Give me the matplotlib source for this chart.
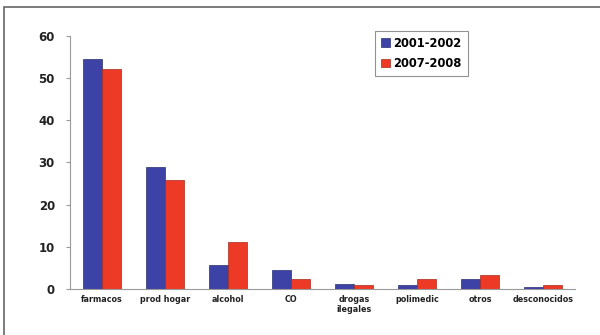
import numpy as np
import matplotlib.pyplot as plt
from matplotlib.patches import Rectangle

categorias = ["farmacos", "prod hogar", "alcohol", "CO", "drogas\nilegales",
              "polimedic", "otros", "desconocidos"]
serie_2001 = [54.5, 28.9, 5.7, 4.5, 1.3, 1.0, 2.4, 0.5]
serie_2007 = [52.1, 25.8, 11.1, 2.4, 1.0, 2.4, 3.3, 1.0]
etiquetas = ["2001-2002", "2007-2008"]

azul = "#3c42a6"
rojo = "#ec3a26"

fig = plt.figure(figsize=(6, 3.35), dpi=100)
ax = fig.add_axes([0.117, 0.137, 0.841, 0.756])

x = np.arange(len(categorias))
w = 0.3
ax.bar(x - w / 2, serie_2001, w, color=azul, edgecolor="#2a2e70", linewidth=0.5,
       label=etiquetas[0])
ax.bar(x + w / 2, serie_2007, w, color=rojo, edgecolor="#a82a1a", linewidth=0.5,
       label=etiquetas[1])

ax.set_ylim(0, 60)
ax.set_xlim(-0.5, len(categorias) - 0.5)
ax.set_yticks(range(0, 61, 10))
ax.set_xticks(x)
ax.set_xticklabels(categorias, fontsize=5.8, fontweight="bold", color="#222222",
                   linespacing=1.2)
for t in ax.get_yticklabels():
    t.set_fontsize(8.5)
    t.set_fontweight("bold")
    t.set_color("#222222")

for s in ["top", "right"]:
    ax.spines[s].set_visible(False)
ax.spines["left"].set_color("#999999")
ax.spines["bottom"].set_color("#999999")
ax.tick_params(axis="y", length=3, color="#999999", pad=8)
ax.tick_params(axis="x", length=0, pad=4)

leg = ax.legend(loc="upper left", bbox_to_anchor=(0.604, 1.02),
                prop={"weight": "bold", "size": 8.3}, frameon=True, fancybox=False,
                handlelength=0.8, handleheight=0.8, handletextpad=0.3,
                borderpad=0.5, labelspacing=0.65, borderaxespad=0)
leg.get_frame().set_edgecolor("#777777")
leg.get_frame().set_linewidth(0.8)

# marco exterior, solo visibles los bordes izquierdo y superior
fig.patches.append(Rectangle((4 / 600, -0.1), 1.2, 1.1 - 7 / 335,
                             transform=fig.transFigure, fill=False,
                             edgecolor="#666666", linewidth=1.2))

fig.savefig("out.png", dpi=100)
